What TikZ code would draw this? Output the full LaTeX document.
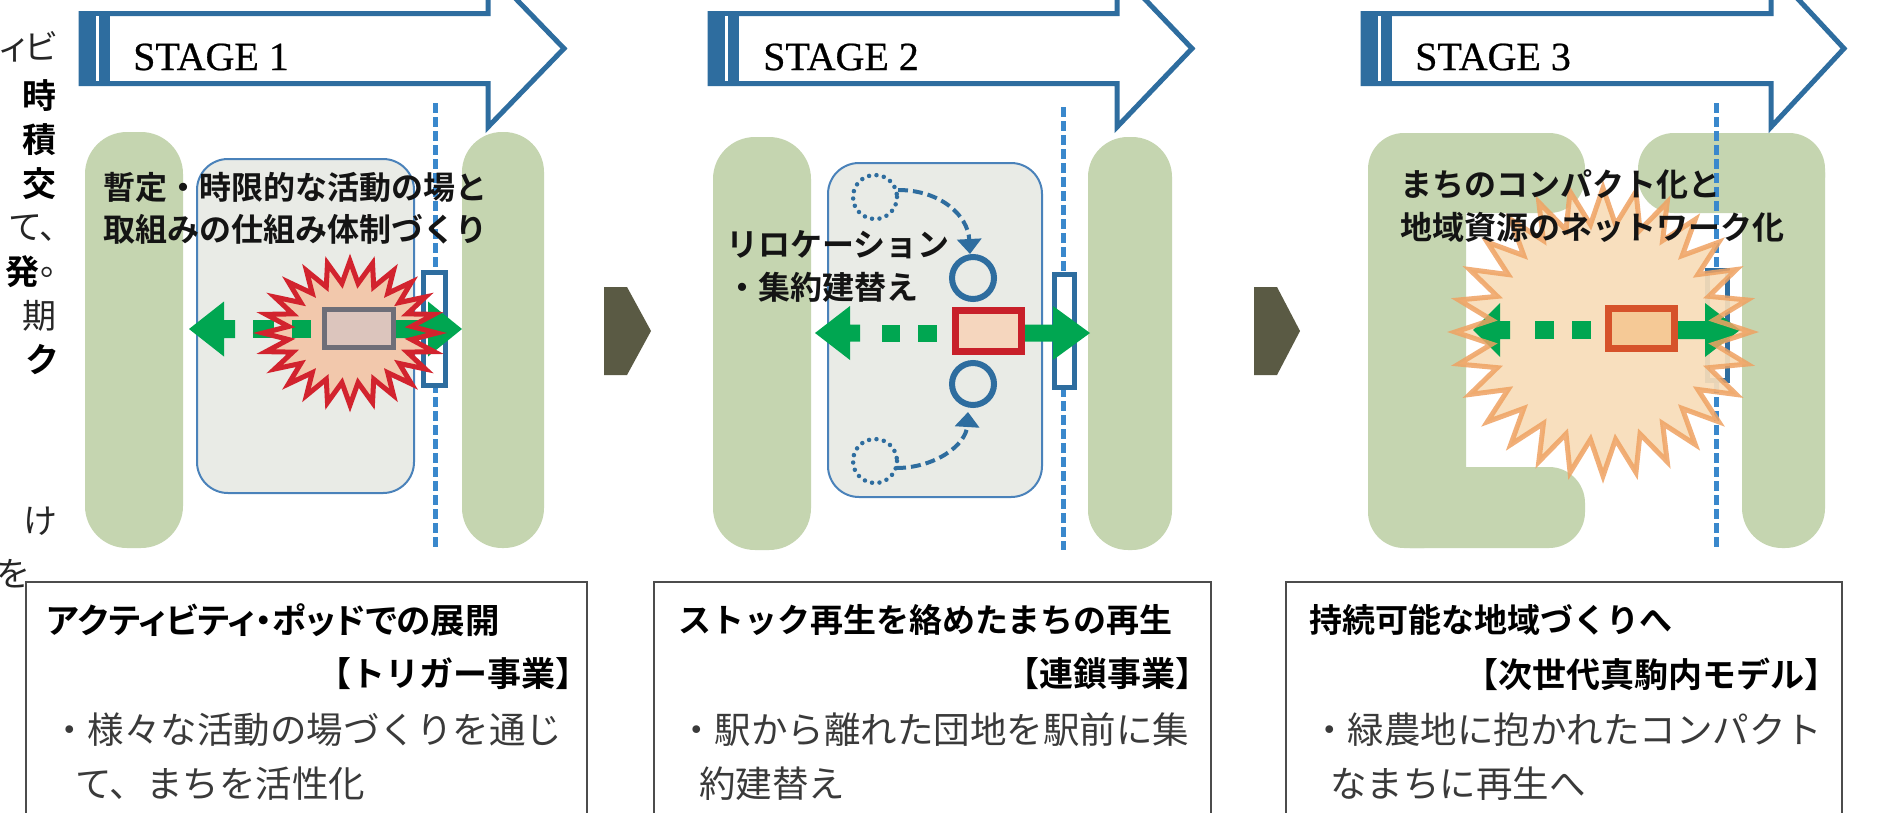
\documentclass[tikz,border=0pt]{standalone}
\usepackage{fontspec}
\newfontfamily\jp{Noto Sans CJK JP}
\newfontfamily\jpb{Noto Sans CJK JP Bold}
\newfontfamily\jpp{Noto Sans CJK JP}[RawFeature=+palt]
\newfontfamily\jpbp{Noto Sans CJK JP Bold}[RawFeature=+palt]
\newfontfamily\stagefont{Liberation Serif}[FakeBold=0.6]
\usetikzlibrary{arrows.meta}
\definecolor{pillc}{HTML}{C5D5B0}
\definecolor{boxfill}{HTML}{E9EBE6}
\definecolor{boxline}{HTML}{4A82BA}
\definecolor{stageblue}{HTML}{2E6D9F}
\definecolor{dashblue}{HTML}{3A88CC}
\definecolor{agreen}{HTML}{00A651}
\definecolor{burstred}{HTML}{D2232E}
\definecolor{burstfill}{HTML}{F2C8AC}
\definecolor{greyrect}{HTML}{6E6E78}
\definecolor{greyfill}{HTML}{DCC5BD}
\definecolor{redrect}{HTML}{C8202A}
\definecolor{redfill}{HTML}{F5D6BE}
\definecolor{burstor}{HTML}{EFA262}
\definecolor{burstorfill}{HTML}{F8DDB9}
\definecolor{orrect}{HTML}{D6522A}
\definecolor{orrectfill}{HTML}{F5C996}
\definecolor{chev}{HTML}{5A5A44}
\definecolor{txtgray}{HTML}{3A3A3A}
\begin{document}
\begin{tikzpicture}[x=1pt,y=-1pt,
  pill/.style={fill=pillc},
  greybox/.style={draw=boxline, line width=2pt, fill=boxfill, rounded corners=31pt},
  dashln/.style={draw=dashblue, line width=5pt, dash pattern=on 10pt off 4pt},
  station/.style={draw=stageblue, line width=5pt, fill=white},
  stageline/.style={draw=stageblue, line width=5pt, fill=white, line join=miter},
  stagetxt/.style={font=\stagefont\fontsize{40}{48}\selectfont, inner sep=0pt, anchor=west},
  scenetxt/.style={font=\jpb\fontsize{32}{38}\selectfont, text=black!92, inner sep=0pt, anchor=west},
  coltxt/.style={font=\jpp\fontsize{34}{40}\selectfont, text=black!85, inner sep=0pt, anchor=east},
  colbold/.style={font=\jpbp\fontsize{34}{40}\selectfont, text=black, inner sep=0pt, anchor=east},
  headtxt/.style={font=\jpb\fontsize{33}{40}\selectfont, text=black, inner sep=0pt},
  brtxt/.style={font=\jpb\fontsize{34}{40}\selectfont, text=black, inner sep=0pt, anchor=east},
  bodytxt/.style={font=\jp\fontsize{36.5}{44}\selectfont, text=txtgray, inner sep=0pt, anchor=west},
  textbox/.style={draw=black!70, line width=2pt, fill=white},
  ring/.style={draw=stageblue, line width=6pt},
  dotcirc/.style={draw=stageblue, line width=4.5pt, dash pattern=on 0pt off 7.5pt, line cap=round},
  movearrow/.style={draw=stageblue, line width=4pt, dash pattern=on 10pt off 5pt, -{Triangle[length=15pt,width=24pt]}},
  chevron/.style={fill=chev},
  garrow/.style={fill=agreen}
]
\useasboundingbox (0,0) rectangle (1886,812);
\fill[white] (0,0) rectangle (1886,812);

% ---------- left column fragments ----------
\node[coltxt] (c1) at (57,47) {ィビ};
\node[colbold] (c2) at (57,96) {時};
\node[colbold] (c3) at (57,140) {積};
\node[colbold] (c4) at (57,184) {交};
\node[coltxt] (c5) at (57,228) {て、};
\node[coltxt] (c6b) at (57,272) {。};
\node[colbold] (c6) at (c6b.west) [anchor=east] {発};
\node[coltxt] (c7) at (57,316) {期};
\node[colbold] (c8) at (57,360) {ク};
\node[coltxt] (c9) at (57,521) {け};
\node[coltxt] (c10) at (28,574) {を};

% ---------- stage arrows ----------
\foreach \L/\R/\T/\n in {81/488/564/1, 710/1117/1192/2, 1363/1771/1844/3}{
  \draw[stageline] (\L,13.5) -- (\R,13.5) -- (\R,-30) -- (\T,48.5) -- (\R,127) -- (\R,83.5) -- (\L,83.5) -- cycle;
  \fill[stageblue] (\L-2.5,11) rectangle (\L+29,86);
  \fill[white] (\L+15,16) rectangle (\L+18,81);
}
\node[stagetxt] (s1) at (133,57) {STAGE 1};
\node[stagetxt] (s2) at (763,57) {STAGE 2};
\node[stagetxt] (s3) at (1415,57) {STAGE 3};

% ---------- STAGE 1 scene ----------
\fill[pill, rounded corners=42pt] (85,132) rectangle (183,548);
\fill[pill, rounded corners=40pt] (462,132) rectangle (544,548);
\draw[greybox] (197,159) rectangle (414,493);
\draw[dashln] (435,103) -- (435,548);
\draw[station] (423.5,272.5) rectangle (445.5,385.5);
\fill[burstfill] plot[variable=\t, samples at={0,...,47}]
  ({350+(62+25*(1-mod(\t,2)))*cos(\t*7.5)}, {333+(50+22*(1-mod(\t,2)))*sin(\t*7.5)}) -- cycle;
\fill[garrow] (189,329) -- (224,301.5) -- (224,320) -- (235,320) -- (235,338) -- (224,338) -- (224,356.5) -- cycle;
\fill[garrow] (253,320) rectangle (274,338);
\fill[garrow] (292,320) rectangle (311,338);
\fill[garrow] (390,320) -- (428,320) -- (428,301.5) -- (462,329) -- (428,356.5) -- (428,338) -- (390,338) -- cycle;
\draw[burstred, line width=5pt, line join=miter] plot[variable=\t, samples at={0,...,47}]
  ({350+(62+25*(1-mod(\t,2)))*cos(\t*7.5)}, {333+(50+22*(1-mod(\t,2)))*sin(\t*7.5)}) -- cycle;
\draw[draw=greyrect, line width=5pt, fill=greyfill] (324.5,309.5) rectangle (393.5,347.5);
\node[scenetxt] (t1a) at (103,187) {暫定・時限的な活動の場と};
\node[scenetxt] (t1b) at (103,229) {取組みの仕組み体制づくり};

% ---------- chevrons ----------
\fill[chevron] (604,287) -- (627,287) -- (651,331) -- (627,375) -- (604,375) -- cycle;
\fill[chevron] (1254,287) -- (1277,287) -- (1300,331) -- (1277,375) -- (1254,375) -- cycle;

% ---------- STAGE 2 scene ----------
\fill[pill, rounded corners=42pt] (713,137) rectangle (811,550);
\fill[pill, rounded corners=40pt] (1088,137) rectangle (1172,550);
\draw[greybox] (828,163) rectangle (1042,497);
\draw[dashln] (1063,107) -- (1063,550);
\draw[station] (1054.5,274.5) rectangle (1074.5,387.5);
\draw[dotcirc] (875,197) circle (22);
\draw[dotcirc] (875,461) circle (22);
\draw[movearrow] (898,190) .. controls (940,190) and (968,215) .. (970,254);
\draw[movearrow] (896,468) .. controls (935,468) and (966,445) .. (968,412);
\draw[ring] (973,278) circle (21);
\draw[ring] (973,384) circle (21);
\fill[garrow] (815,333) -- (850,306) -- (850,324.5) -- (860,324.5) -- (860,341.5) -- (850,341.5) -- (850,360) -- cycle;
\fill[garrow] (882,324.5) rectangle (900,341.5);
\fill[garrow] (918,324.5) rectangle (937,341.5);
\fill[garrow] (1022,324.5) -- (1053,324.5) -- (1053,306) -- (1090,333) -- (1053,360) -- (1053,341.5) -- (1022,341.5) -- cycle;
\draw[draw=redrect, line width=7pt, fill=redfill] (955.5,310.5) rectangle (1021.5,351.5);
\node[scenetxt] (t2a) at (726,245) {リロケーション};
\node[scenetxt] (t2b) at (726,287) {・集約建替え};

% ---------- STAGE 3 scene ----------
\fill[pill, rounded corners=42pt] (1368,133) rectangle (1466,548);
\fill[pill, rounded corners=36pt] (1368,133) rectangle (1585,213);
\fill[pill, rounded corners=36pt] (1368,467) rectangle (1585,548);
\fill[pill, rounded corners=40pt] (1742,133) rectangle (1825,548);
\fill[pill, rounded corners=36pt] (1638,133) rectangle (1825,213);
\draw[dashln] (1716,103) -- (1716,547);
\draw[station] (1707.5,270.5) rectangle (1727.5,380.5);
\fill[burstorfill, opacity=0.92] plot[variable=\t, samples at={0,...,55}]
  ({1603+(112+36*(1-mod(\t,2)))*cos(\t*6.42857)}, {332+(108+36*(1-mod(\t,2)))*sin(\t*6.42857)}) -- cycle;
\fill[garrow] (1473,330) -- (1500,303) -- (1500,321) -- (1510,321) -- (1510,339) -- (1500,339) -- (1500,357) -- cycle;
\fill[garrow] (1535,321) rectangle (1554,339);
\fill[garrow] (1572,321) rectangle (1591,339);
\fill[garrow] (1670,321) -- (1705,321) -- (1705,303) -- (1740,330) -- (1705,357) -- (1705,339) -- (1670,339) -- cycle;
\draw[burstor, line width=5pt, line join=miter, opacity=0.85] plot[variable=\t, samples at={0,...,55}]
  ({1603+(112+36*(1-mod(\t,2)))*cos(\t*6.42857)}, {332+(108+36*(1-mod(\t,2)))*sin(\t*6.42857)}) -- cycle;
\draw[draw=orrect, line width=7pt, fill=orrectfill] (1608.5,308.5) rectangle (1674.5,348.5);
\node[scenetxt] (t3a) at (1400,184) {まちのコンパクト化と};
\node[scenetxt] (t3b) at (1400,227) {地域資源のネットワーク化};

% ---------- text boxes ----------
\draw[textbox] (26,582) rectangle (587,830);
\node[headtxt, anchor=west, font=\jpbp\fontsize{34.5}{40}\selectfont] (b1a) at (47,620) {アクティビティ・ポッドでの展開};
\node[brtxt] (b1b) at (590,674) {【トリガー事業】};
\node[bodytxt] (b1c) at (51,730) {・様々な活動の場づくりを通じ};
\node[bodytxt] (b1d) at (75,784) {て、まちを活性化};

\draw[textbox] (654,582) rectangle (1211,830);
\node[headtxt, anchor=west] (b2a) at (678,620) {ストック再生を絡めたまちの再生};
\node[brtxt] (b2b) at (1210,674) {【連鎖事業】};
\node[bodytxt] (b2c) at (678,730) {・駅から離れた団地を駅前に集};
\node[bodytxt] (b2d) at (699,784) {約建替え};

\draw[textbox] (1286,582) rectangle (1842,830);
\node[headtxt, anchor=west] (b3a) at (1309,620) {持続可能な地域づくりへ};
\node[brtxt] (b3b) at (1839,674) {【次世代真駒内モデル】};
\node[bodytxt] (b3c) at (1311,730) {・緑農地に抱かれたコンパクト};
\node[bodytxt] (b3d) at (1330,784) {なまちに再生へ};
\end{tikzpicture}
\end{document}
